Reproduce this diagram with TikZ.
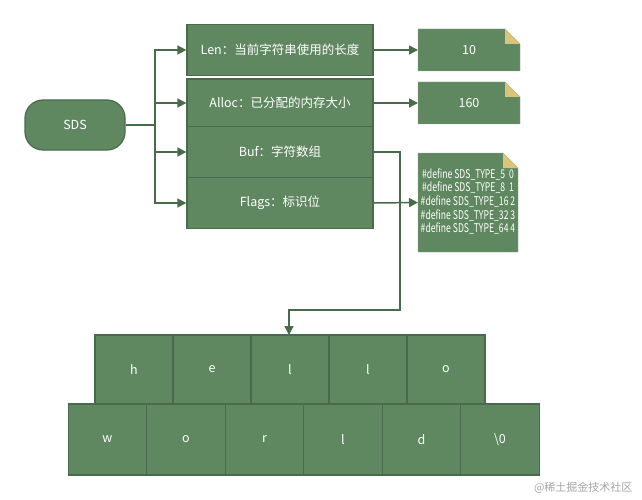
\documentclass[tikz,border=0pt]{standalone}
\usepackage{fontspec}
\setmainfont{Noto Sans CJK SC}
\usetikzlibrary{arrows.meta}
\definecolor{gf}{HTML}{5F8760}
\definecolor{gb}{HTML}{4A6A4C}
\definecolor{fold}{HTML}{D9C47A}
\tikzset{
 box/.style={draw=gb,fill=gf,line width=1.2pt,text=white,font=\fontsize{12.5}{14}\selectfont},
 conn/.style={draw=gb,line width=1.5pt,-{Triangle[length=9pt,width=9pt]}},
 ln/.style={draw=gb,line width=1.5pt},
}
\newcommand{\note}[6]{% name,x1,y1,x2,y2,text
 \fill[gf,draw=gb!60] (#2,#3) -- (#4-15,#3) -- (#4,#3+15) -- (#4,#5) -- (#2,#5) -- cycle;
 \fill[fold] (#4-15,#3) -- (#4,#3+15) -- (#4-15,#3+15) -- cycle;
 \node[text=white,font=\fontsize{12.5}{14}\selectfont,align=center,inner sep=0pt] (#1) at ({(#2+#4)/2},{(#3+#5)/2}) {#6};
 \coordinate (#1w) at (#2,{(#3+#5)/2});
}
\begin{document}
\begin{tikzpicture}[x=1pt,y=-1pt]
\useasboundingbox (0,0) rectangle (642,500);
\node[box,rounded corners=18pt,minimum width=100pt,minimum height=50pt] (sds) at (75,125) {SDS};
\node[box,minimum width=186pt,minimum height=51pt] (len) at (280,50) {Len：当前字符串使用的长度};
\node[box,minimum width=186pt,minimum height=48pt] (alloc) at (280,103) {Alloc：已分配的内存大小};
\node[box,minimum width=186pt,minimum height=51pt] (buf) at (280,152) {Buf：字符数组};
\node[box,minimum width=186pt,minimum height=51pt] (flags) at (280,203) {Flags：标识位};
\note{n10}{418}{29}{520}{71}{10}
\note{n160}{418}{82}{520}{124}{160}
\note{ndef}{418}{153}{518}{252}{\scalebox{0.72}[1]{\fontsize{12}{13}\selectfont\begin{tabular}{@{}c@{}}\#define SDS\_TYPE\_5\ \ 0\\\#define SDS\_TYPE\_8\ \ 1\\\#define SDS\_TYPE\_16 2\\\#define SDS\_TYPE\_32 3\\\#define SDS\_TYPE\_64 4\end{tabular}}}
\coordinate (tr) at (155,125);
\draw[ln] (sds.east) -- (tr);
\draw[conn] (tr) |- (len.west);
\draw[conn] (tr) |- (alloc.west);
\draw[conn] (tr) |- (buf.west);
\draw[conn] (tr) |- (flags.west);
\draw[conn] (len.east) -- (n10w);
\draw[conn] (alloc.east) -- (n160w);
\draw[conn] (flags.east) -- (ndefw);
\foreach \t [count=\i from 0] in {h,e,l,l,o}
  \node[box,minimum width=78pt,minimum height=69pt] (a\i) at (134+78*\i,369.5) {\t};
\foreach \t [count=\i from 0] in {w,o,r,l,d,\textbackslash0}
  \node[box,minimum width=78.5pt,minimum height=71pt] (b\i) at (107.5+78.5*\i,439.5) {\t};
\coordinate (m) at (289,335);
\draw[conn] (buf.east) -- (400,152) -- (400,310) -- (289,310) -- (m);
\node[text=gray!70,font=\fontsize{11}{12}\selectfont,anchor=east] (wm) at (636,488) {@稀土掘金技术社区};
\end{tikzpicture}
\end{document}
